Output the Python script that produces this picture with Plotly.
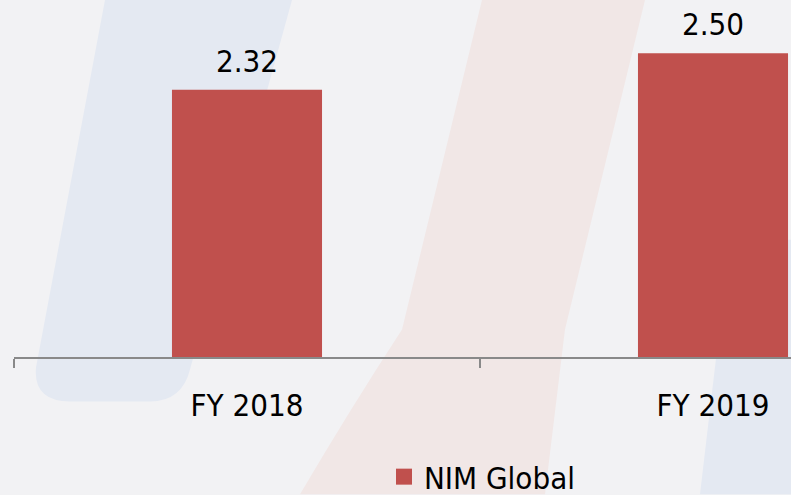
import plotly.graph_objects as go

categories = ["FY 2018", "FY 2019"]
nim_global = [2.32, 2.50]
series_name = "NIM Global"

W, H = 791, 495
PL, PB = 14, 137.5          # plot-area left / bottom margins (px)
plot_w, plot_h = W - PL, H - PB

def X(px):
    return (px - PL) / plot_w

def Y(py):
    return (H - PB - py) / plot_h

FONT = "DejaVu Sans Condensed, DejaVu Sans, sans-serif"
BAR = "#C0504D"
BG = "#F2F2F4"

fig = go.Figure()
fig.add_trace(go.Bar(
    x=categories, y=nim_global, name=series_name,
    marker=dict(color=BAR, line=dict(width=0)),
    width=0.322, showlegend=False,
))
# legend entry for the series (larger square swatch like the reference)
fig.add_trace(go.Scatter(
    x=[None], y=[None], mode="markers", name=series_name,
    marker=dict(symbol="square", size=17, color=BAR), showlegend=True,
))

for c, v in zip(categories, nim_global):
    fig.add_annotation(x=c, y=v, text=f"{v:.2f}", showarrow=False,
                       yanchor="bottom", yshift=9,
                       font=dict(family=FONT, size=31, color="#000000"))

blue = "#E4E9F2"
pink = "#F1E7E6"

def P(cmds):
    out = []
    for c in cmds:
        if isinstance(c, str):
            out.append(c)
        else:
            out.append(f"{X(c[0]):.4f},{Y(c[1]):.4f}")
    return " ".join(out)

shapes = [
    dict(type="path", xref="paper", yref="paper", layer="below",
         path=P(["M", (105, 0), "L", (292, 0), "L", (190, 370), "Q", (182, 402), (150, 402),
                 "L", (70, 402), "Q", (33, 402), (36, 368), "Z"]),
         fillcolor=blue, line=dict(width=0)),
    dict(type="path", xref="paper", yref="paper", layer="below",
         path=P(["M", (482, 0), "L", (645, 0), "L", (565, 330), "L", (545, 495),
                 "L", (300, 495), "Q", (350, 410), (402, 330), "Z"]),
         fillcolor=pink, line=dict(width=0)),
    dict(type="path", xref="paper", yref="paper", layer="below",
         path=P(["M", (730, 240), "L", (791, 240), "L", (791, 495), "L", (700, 495), "Z"]),
         fillcolor=blue, line=dict(width=0)),
]

fig.update_layout(
    width=W, height=H,
    margin=dict(l=PL, r=0, t=0, b=PB, pad=0),
    paper_bgcolor=BG, plot_bgcolor="rgba(0,0,0,0)",
    shapes=shapes,
    showlegend=True,
    legend=dict(orientation="h", xref="container", yref="container",
                x=384 / W, xanchor="left", y=1 - 477 / H, yanchor="middle",
                itemsizing="trace",
                font=dict(family=FONT, size=31, color="#000000"),
                bgcolor="rgba(0,0,0,0)"),
    xaxis=dict(range=[-0.5, -0.5 + plot_w / 466], type="category",
               showline=True, linecolor="#898989", linewidth=2,
               ticks="outside", tickson="boundaries", ticklen=9, tickwidth=2,
               tickcolor="#898989", showgrid=False, zeroline=False,
               ticklabelstandoff=20,
               tickfont=dict(family=FONT, size=31, color="#000000")),
    yaxis=dict(range=[1.0, 1.0 + plot_h / 202.8], visible=False,
               showgrid=False, zeroline=False),
)

fig.write_html("out.html", config={"displayModeBar": False},
               post_script="document.body.style.margin='0';document.body.style.overflow='hidden';")
